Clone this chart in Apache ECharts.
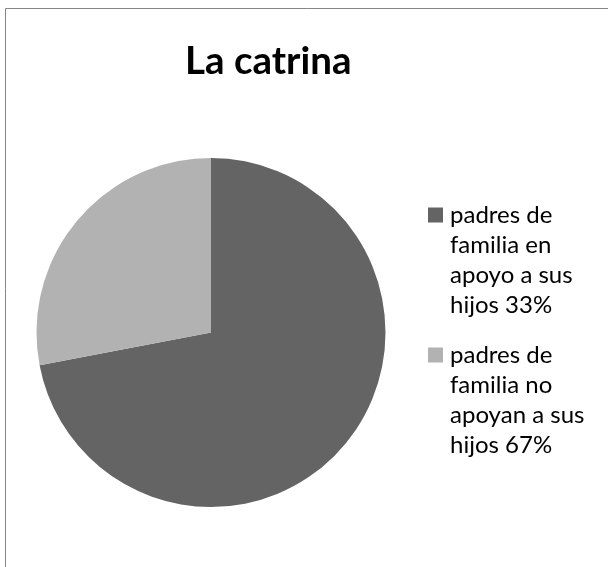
<!DOCTYPE html>
<html>
<head>
<meta charset="utf-8">
<script src="https://cdn.jsdelivr.net/npm/echarts@6/dist/echarts.min.js"></script>
<style>html,body{margin:0;padding:0;background:#fff}#c{width:608px;height:567px}</style>
</head>
<body>
<div id="c"></div>
<script>
const title = 'La catrina';
const categories = [
  'padres de\nfamilia en\napoyo a sus\nhijos 33%',
  'padres de\nfamilia no\napoyan a sus\nhijos 67%'
];
const values = [72, 28];
const colors = ['#646464', '#b2b2b2'];

const chart = echarts.init(document.getElementById('c'), null, {renderer: 'canvas'});
const FONT = 'Lato';
const rich = {
  sp: {width: 22, height: 15},
  t: {fontFamily: FONT, fontSize: 24, lineHeight: 30, color: '#000', padding: [0, 0, 0, 0]}
};
colors.forEach((c, i) => { rich['m' + i] = {width: 15, height: 15, backgroundColor: c, padding: 0}; rich['g' + i] = {width: 7}; });

chart.setOption({
  animation: false,
  title: {
    text: title,
    left: 180, top: 37,
    textStyle: {fontFamily: FONT, fontWeight: 'bold', fontSize: 38.5, color: '#000'}
  },
  graphic: [{
    type: 'rect', silent: true,
    shape: {x: 5.5, y: 8.5, width: 700, height: 700},
    style: {fill: 'none', stroke: '#868686', lineWidth: 1}
  }],
  legend: {
    orient: 'vertical', left: 418, top: 195,
    itemWidth: 0, itemHeight: 0, itemGap: 20,
    selectedMode: false,
    data: categories,
    formatter: function (name) {
      const i = categories.indexOf(name);
      const lines = name.split('\n');
      return lines.map((l, k) => (k === 0 ? '{m' + i + '|}{g' + i + '|}' : '{sp|}') + '{t|' + l + '}').join('\n');
    },
    textStyle: {fontFamily: FONT, fontSize: 24, lineHeight: 30, rich: rich}
  },
  series: [{
    type: 'pie',
    center: [211, 332.5],
    radius: 174.5,
    startAngle: 90,
    clockwise: true,
    label: {show: false},
    labelLine: {show: false},
    emphasis: {disabled: true},
    itemStyle: {borderWidth: 0},
    data: categories.map((n, i) => ({name: n, value: values[i], itemStyle: {color: colors[i]}}))
  }]
});
</script>
</body>
</html>
